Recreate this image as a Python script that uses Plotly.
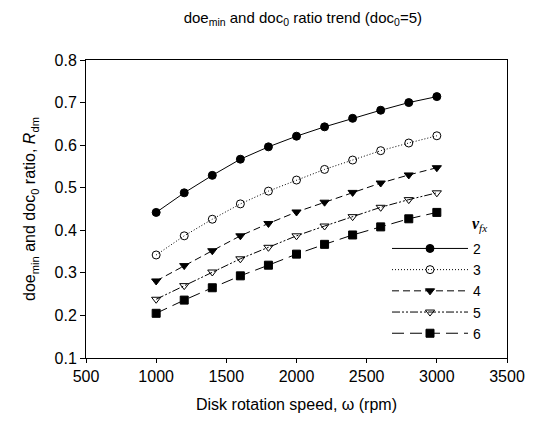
import plotly.graph_objects as go

speed = [1000, 1200, 1400, 1600, 1800, 2000, 2200, 2400, 2600, 2800, 3000]
vfx_labels = ["2", "3", "4", "5", "6"]
r_v2 = [0.442, 0.488, 0.529, 0.567, 0.596, 0.621, 0.643, 0.663, 0.682, 0.700, 0.714]
r_v3 = [0.342, 0.387, 0.426, 0.462, 0.492, 0.518, 0.543, 0.565, 0.587, 0.605, 0.622]
r_v4 = [0.281, 0.317, 0.352, 0.387, 0.416, 0.443, 0.466, 0.489, 0.511, 0.530, 0.547]
r_v5 = [0.238, 0.270, 0.302, 0.333, 0.360, 0.387, 0.410, 0.432, 0.454, 0.472, 0.488]
r_v6 = [0.205, 0.236, 0.265, 0.293, 0.318, 0.344, 0.367, 0.389, 0.408, 0.427, 0.442]
series = [r_v2, r_v3, r_v4, r_v5, r_v6]

styles = [
    dict(symbol="circle", dash="solid"),
    dict(symbol="circle-open", dash="1px,2px"),
    dict(symbol="triangle-down", dash="7px,4px"),
    dict(symbol="triangle-down-open", dash="8px,2px,2px,2px,2px,2px"),
    dict(symbol="square", dash="12px,6px"),
]

fig = go.Figure()
for lab, ys, st in zip(vfx_labels, series, styles):
    fig.add_trace(go.Scatter(
        x=speed, y=ys, name=lab, mode="lines+markers",
        line=dict(color="black", width=1, dash=st["dash"]),
        marker=dict(symbol=st["symbol"], size=8, color="black",
                    line=dict(color="black", width=1)),
    ))

font = "Liberation Sans, Arial, sans-serif"
fig.update_layout(
    width=541, height=428,
    margin=dict(l=78, r=42, t=52, b=78, autoexpand=False),
    paper_bgcolor="white", plot_bgcolor="white",
    font=dict(family=font, size=16, color="black"),
    title=dict(text="doe<sub>min</sub> and doc<sub>0</sub> ratio trend (doc<sub>0</sub>=5)",
               x=0.545, xanchor="center", y=0.978, yanchor="middle",
               font=dict(size=15, family=font)),
    showlegend=True,
    legend=dict(
        x=0.715, xanchor="left", y=0.42, yanchor="top",
        bgcolor="rgba(0,0,0,0)", borderwidth=0,
        itemwidth=76, tracegroupgap=0,
        font=dict(size=14, family=font),
    ),
    annotations=[dict(
        text="<b><i>v</i></b><sub><i>fx</i></sub>", xref="paper", yref="paper",
        x=0.935, y=0.447, xanchor="center", yanchor="middle", showarrow=False,
        font=dict(family="Liberation Serif, Times New Roman, serif", size=16),
    )],
    xaxis=dict(
        range=[500, 3500], dtick=500, tick0=500,
        showgrid=False, zeroline=False, automargin=False,
        showline=True, linecolor="black", linewidth=1, mirror=True,
        ticks="outside", ticklen=4, tickcolor="black",
        title=dict(text="Disk rotation speed, \u03c9 (rpm)", font=dict(size=16), standoff=14),
    ),
    yaxis=dict(
        range=[0.1, 0.8], dtick=0.1, tick0=0.1, tickformat=".1f",
        showgrid=False, zeroline=False, automargin=False,
        showline=True, linecolor="black", linewidth=1, mirror=True,
        ticks="outside", ticklen=5, tickcolor="black",
        title=dict(text="doe<sub>min</sub> and doc<sub>0</sub> ratio, <i>R</i><sub>dm</sub>",
                   font=dict(size=16), standoff=14),
    ),
)

fig.write_html("out.html")
